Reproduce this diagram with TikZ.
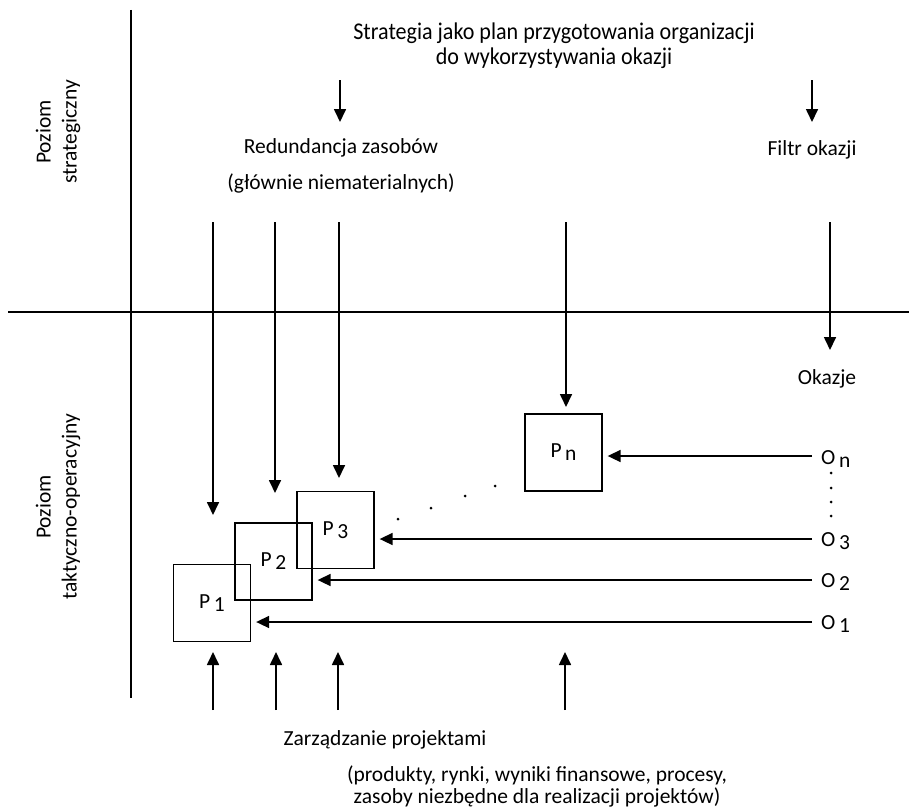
\documentclass[tikz,border=0pt]{standalone}
\usepackage{fontspec}
\setmainfont{Carlito}
\newfontfamily\narrowfont{Carlito}[FakeStretch=0.92]
\usetikzlibrary{arrows.meta}
\newcommand\lowsub[1]{\,\raisebox{-0.3ex}{#1}}

\begin{document}
\begin{tikzpicture}[x=1pt,y=-1pt,
    arr/.style={line width=1.7pt,-{Triangle[length=13pt,width=12pt]}},
    proj/.style={draw,line width=1.3pt,minimum size=77pt,inner sep=0pt,
        font=\fontsize{21.5}{24}\selectfont},
    lbl/.style={font=\fontsize{21.5}{26}\selectfont,align=center},
    dot/.style={circle,fill,inner sep=0pt,minimum size=3pt}]
    \useasboundingbox (0,0) rectangle (909,808);

    % osie
    \coordinate (T) at (131,10);
    \coordinate (B) at (131,698);
    \coordinate (L) at (8,312);
    \coordinate (R) at (909,312);
    \draw[line width=1.2pt] (T)--(B);
    \draw[line width=1.2pt] (L)--(R);

    % poziomy
    \node[lbl,rotate=90] (strat) at (58,132) {Poziom\\strategiczny};
    \node[lbl,rotate=90] (takt) at (58,507) {Poziom\\taktyczno-operacyjny};

    % teksty
    \node[lbl,font=\narrowfont\fontsize{24}{25}\selectfont] (plan) at (554,46)
        {Strategia jako plan przygotowania organizacji\\do wykorzystywania okazji};
    \node[lbl] (red) at (341,148) {Redundancja zasobów};
    \node[lbl] (niem) at (341,183) {(głównie niematerialnych)};
    \node[lbl] (filtr) at (812,150) {Filtr okazji};
    \node[lbl] (okazje) at (827,379) {Okazje};
    \node[lbl] (zarz) at (385,740) {Zarządzanie projektami};
    \node[lbl,font=\fontsize{21.5}{22}\selectfont] (opis) at (537,786)
        {(produkty, rynki, wyniki finansowe, procesy,\\zasoby niezbędne dla realizacji projektów)};

    % projekty
    \node[proj] (p1) at (212,603) {P\lowsub{1}};
    \node[proj] (p2) at (273.5,561.5) {P\lowsub{2}};
    \node[proj] (p3) at (335.5,530) {P\lowsub{3}};
    \node[proj] (pn) at (563.5,452.5) {P\lowsub{n}};

    % okazje
    \node[lbl,anchor=west,inner xsep=0pt] (o1) at (821,624) {O\lowsub{1}};
    \node[lbl,anchor=west,inner xsep=0pt] (o2) at (821,582) {O\lowsub{2}};
    \node[lbl,anchor=west,inner xsep=0pt] (o3) at (821,541) {O\lowsub{3}};
    \node[lbl,anchor=west,inner xsep=0pt] (on) at (821,459) {O\lowsub{n}};

    \foreach \o/\p/\y in {o1/p1/622,o2/p2/580,o3/p3/539,on/pn/456}{
        \coordinate (k\o) at (812,\y);
        \draw[arr,shorten >=5pt] (k\o) -- (k\o -| \p.east);
    }

    % strzalki z gory
    \foreach \x/\y in {340/122,812/122}{
        \coordinate (s\x) at (\x,80);
        \coordinate (e\x) at (\x,\y);
        \draw[arr] (s\x) -- (e\x);
    }
    \foreach \x/\y in {213/515,275/493,339/478,566/407,830/350}{
        \coordinate (a\x) at (\x,222);
        \coordinate (b\x) at (\x,\y);
        \draw[arr] (a\x) -- (b\x);
    }

    % strzalki z dolu
    \foreach \x in {213,276,338,565}{
        \coordinate (d\x) at (\x,710);
        \coordinate (u\x) at (\x,652);
        \draw[arr] (d\x) -- (u\x);
    }

    % kropki
    \foreach \P/\q in {398/519,431/508,465/496,495/486,831/473,831/488,831/502,831/516}{
        \node[dot] (k\P\q) at (\P,\q) {};
    }
\end{tikzpicture}
\end{document}
